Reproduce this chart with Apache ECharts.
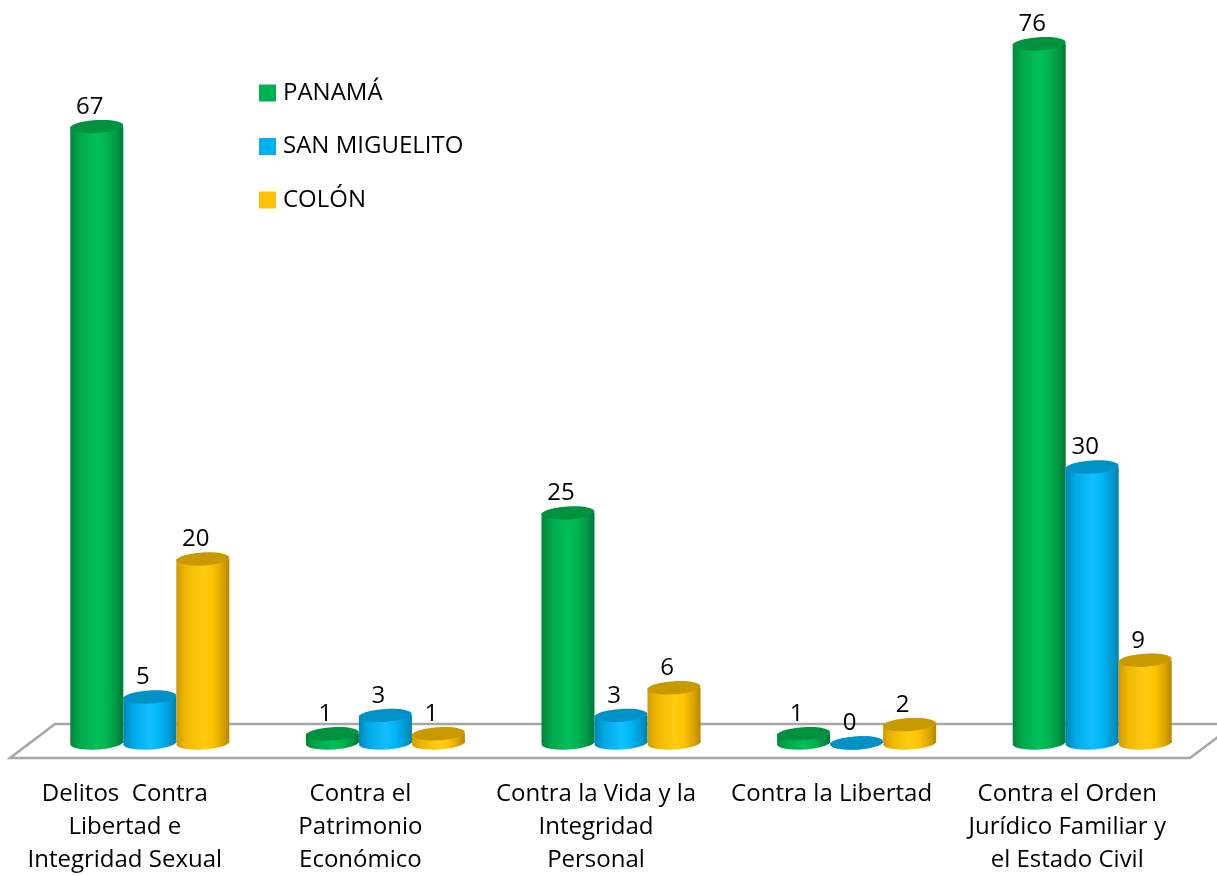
<!DOCTYPE html>
<html>
<head>
<meta charset="utf-8">
<script src="https://cdn.jsdelivr.net/npm/echarts@6/dist/echarts.min.js"></script>
<style>
html,body{margin:0;padding:0;background:#fff;}
#chart{width:1217px;height:876px;}
</style>
</head>
<body>
<div id="chart"></div>
<script>
const categories = [
  'Delitos  Contra\nLibertad e\nIntegridad Sexual',
  'Contra el\nPatrimonio\nEconómico',
  'Contra la Vida y la\nIntegridad\nPersonal',
  'Contra la Libertad',
  'Contra el Orden\nJurídico Familiar y\nel Estado Civil'
];
const seriesNames = ['PANAMÁ', 'SAN MIGUELITO', 'COLÓN'];
const panama = [67, 1, 25, 1, 76];
const sanMiguelito = [5, 3, 3, 0, 30];
const colon = [20, 1, 6, 2, 9];

const FONT = '"Open Sans", "Noto Sans", sans-serif';

const palettes = [
  { base: '#00B050', top: '#00923f',
    side: ['#00863a', '#00a84c', '#00c05a', '#00b452', '#009443', '#007834'] },
  { base: '#00B0F0', top: '#0092c6',
    side: ['#0086b8', '#00a8e6', '#12c0ff', '#00b6f4', '#0098d2', '#007fae'] },
  { base: '#FFC000', top: '#c99a00',
    side: ['#cf9b00', '#f0b800', '#ffcc12', '#ffc400', '#d9a300', '#b58700'] }
];

function sideGrad(p) {
  const pos = [0, 0.18, 0.5, 0.68, 0.88, 1];
  return new echarts.graphic.LinearGradient(0, 0, 1, 0,
    p.side.map((c, i) => ({ offset: pos[i], color: c })));
}

function cylinder(idx) {
  const p = palettes[idx];
  return function (params, api) {
    const cat = api.value(0);
    const val = api.value(1);
    const base = api.coord([cat, 0]);
    const top = api.coord([cat, val]);
    const band = api.size([1, 0])[0];
    const bw = band * 0.225;
    const cx = base[0] + (idx - 1) * bw;
    const rx = bw / 2;
    const ry = 6.5;
    const tilt = 0.06;
    return {
      type: 'group',
      children: [
        { type: 'ellipse', x: cx, y: base[1], rotation: tilt,
          shape: { cx: 0, cy: 0, rx: rx, ry: ry },
          style: { fill: sideGrad(p) } },
        { type: 'rect',
          shape: { x: cx - rx, y: top[1], width: bw, height: base[1] - top[1] },
          style: { fill: sideGrad(p) } },
        { type: 'ellipse', x: cx, y: top[1], rotation: tilt,
          shape: { cx: 0, cy: 0, rx: rx, ry: ry },
          style: { fill: p.top } },
        { type: 'text', x: cx - 7, y: top[1] - ry - 1,
          style: { text: String(val), align: 'center', verticalAlign: 'bottom',
            fontSize: 24, fontFamily: FONT, fill: '#000' } }
      ]
    };
  };
}

function floor(params, api) {
  const cs = params.coordSys;
  const y0 = api.coord([0, 0])[1];
  const back = y0 - 19, front = y0 + 15;
  const pts = [
    [cs.x + 23, back],
    [cs.x + cs.width + 25, back],
    [cs.x + cs.width - 20, front],
    [cs.x - 22, front]
  ];
  return {
    type: 'polygon',
    shape: { points: pts },
    style: { fill: '#ffffff', stroke: '#a6a6a6', lineWidth: 2.5 }
  };
}

const dataSets = [panama, sanMiguelito, colon];
const series = [{
  type: 'custom', name: '_floor', renderItem: floor, z: 1,
  data: [[0, 0]], silent: true, legendHoverLink: false
}];
dataSets.forEach((arr, i) => {
  series.push({
    type: 'custom',
    name: seriesNames[i],
    color: palettes[i].base,
    renderItem: cylinder(i),
    z: 2,
    encode: { x: 0, y: 1 },
    data: arr.map((v, k) => [k, v])
  });
});

const chart = echarts.init(document.getElementById('chart'));
chart.setOption({
  animation: false,
  backgroundColor: '#ffffff',
  grid: { left: 32, right: 7, top: 7, bottom: 133, containLabel: false, outerBoundsMode: 'none' },
  legend: {
    data: seriesNames,
    orient: 'vertical',
    left: 259, top: 81,
    padding: 0,
    itemWidth: 17, itemHeight: 17,
    itemGap: 29.5,
    icon: 'rect',
    textStyle: { fontSize: 24, fontFamily: FONT, color: '#000', padding: [0, 0, 0, 2] }
  },
  xAxis: {
    type: 'category',
    data: categories,
    axisLine: { show: false },
    axisTick: { show: false },
    axisLabel: {
      interval: 0, fontSize: 24, lineHeight: 33, fontFamily: FONT, color: '#000',
      margin: 35, padding: [0, 50, 0, 0]
    }
  },
  yAxis: {
    type: 'value', min: 0, max: 80, show: false, splitLine: { show: false }
  },
  series: series
});
</script>
</body>
</html>
